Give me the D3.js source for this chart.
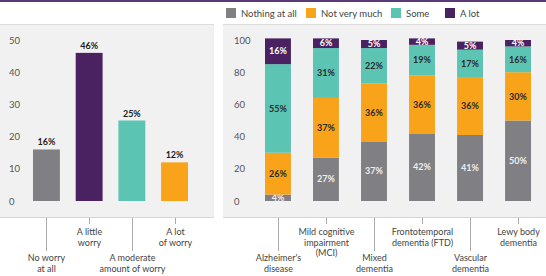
<!DOCTYPE html>
<html><head><meta charset="utf-8">
<script src="https://cdn.jsdelivr.net/npm/d3@7"></script>
<style>
html,body{margin:0;padding:0;background:#fff;}
svg{display:block;font-family:Lato,"Open Sans",sans-serif;}
</style></head>
<body>
<script>
// Left chart data
const worryCats = ["No worry at all","A little worry","A moderate amount of worry","A lot of worry"];
const worryLabelLines = [["No worry","at all"],["A little","worry"],["A moderate","amount of worry"],["A lot","of worry"]];
const worryValues = [16,46,25,12];
const worryColors = ["#808084","#4a2261","#5cc4b3","#f9a31b"];
const worryTicks = [0,10,20,30,40,50];

// Right chart data
const types = ["Alzheimer's disease","Mild cognitive impairment (MCI)","Mixed dementia","Frontotemporal dementia (FTD)","Vascular dementia","Lewy body dementia"];
const typeLabelLines = [["Alzheimer's","disease"],["Mild cognitive","impairment","(MCI)"],["Mixed","dementia"],["Frontotemporal","dementia (FTD)"],["Vascular","dementia"],["Lewy body","dementia"]];
const seriesNames = ["Nothing at all","Not very much","Some","A lot"];
const nothingAtAll = [4,27,37,42,41,50];
const notVeryMuch = [26,37,36,36,36,30];
const some = [55,31,22,19,17,16];
const aLot = [16,6,5,4,5,4];
const seriesColors = ["#808084","#f9a31b","#5cc4b3","#4a2261"];
const seriesTextColors = ["#eeeeee","#2a2a2a","#2a2a2a","#ffffff"];
const pctTicks = [0,20,40,60,80,100];

const W=546,H=276;
const svg=d3.select("body").append("svg").attr("width",W).attr("height",H);

// top rule
svg.append("rect").attr("x",0).attr("y",0).attr("width",W).attr("height",2).attr("fill","#5b3b77");

// panels
const panelTop=24, panelBot=218;
function panel(x0,x1){
  svg.append("rect").attr("x",x0).attr("y",panelTop).attr("width",x1-x0).attr("height",panelBot-panelTop).attr("fill","#f1f1f1");
  svg.append("line").attr("x1",x0).attr("x2",x1).attr("y1",panelTop+0.5).attr("y2",panelTop+0.5).attr("stroke","#dcdcdc");
  svg.append("line").attr("x1",x0).attr("x2",x1).attr("y1",panelBot-0.5).attr("y2",panelBot-0.5).attr("stroke","#d6d6d6");
}
panel(0,214);
panel(223,546);

const axisColor="#555";
// LEFT CHART
const yL=d3.scaleLinear().domain([0,50]).range([201,40]);
const xL=d3.scaleBand().domain(worryCats).range([33,188]).paddingInner(0.37).paddingOuter(0);
const axL=svg.append("g").attr("transform","translate(9,0)").call(d3.axisLeft(yL).tickValues(worryTicks).tickSize(0).tickPadding(0));
axL.select(".domain").remove();
axL.selectAll("text").attr("text-anchor","start").attr("fill",axisColor).attr("font-size",9.5).attr("font-family","Lato,sans-serif");

svg.append("g").selectAll("rect").data(worryCats).join("rect")
  .attr("x",d=>xL(d)).attr("width",xL.bandwidth())
  .attr("y",(d,i)=>yL(worryValues[i])).attr("height",(d,i)=>yL(0)-yL(worryValues[i]))
  .attr("fill",(d,i)=>worryColors[i]);
svg.append("g").selectAll("text").data(worryCats).join("text")
  .attr("x",d=>xL(d)+xL.bandwidth()/2).attr("y",(d,i)=>yL(worryValues[i])-4)
  .attr("text-anchor","middle").attr("font-size",9).attr("font-weight","bold").attr("fill","#222")
  .text((d,i)=>worryValues[i]+"%");

function catLabels(x, cats, lines){
  cats.forEach((c,i)=>{
    const cx=Math.round(x(c)+x.bandwidth()/2)+0.5;
    const nl = lines[i].length;
    const long = i%2===0;
    const tickEnd = long ? (nl===2?251:251) : 224;
    svg.append("line").attr("x1",cx).attr("x2",cx).attr("y1",panelBot).attr("y2",tickEnd).attr("stroke","#aaa").attr("stroke-width",1);
    const y0 = long ? 261 : 235;
    lines[i].forEach((t,j)=>{
      svg.append("text").attr("x",cx).attr("y",y0+j*10.5).attr("text-anchor","middle")
        .attr("font-size",9).attr("fill","#444").text(t);
    });
  });
}
catLabels(xL, worryCats, worryLabelLines);

// RIGHT CHART
const yR=d3.scaleLinear().domain([0,100]).range([201,40]);
const xR=d3.scaleBand().domain(types).range([265,531]).paddingInner(0.46).paddingOuter(0);
const axR=svg.append("g").attr("transform","translate(234,0)").call(d3.axisLeft(yR).tickValues(pctTicks).tickSize(0).tickPadding(0));
axR.select(".domain").remove();
axR.selectAll("text").attr("text-anchor","start").attr("fill",axisColor).attr("font-size",9.5).attr("font-family","Lato,sans-serif");

const table=types.map((t,i)=>({type:t,"Nothing at all":nothingAtAll[i],"Not very much":notVeryMuch[i],"Some":some[i],"A lot":aLot[i]}));
const stack=d3.stack().keys(seriesNames)(table);
stack.forEach((layer,k)=>{
  const g=svg.append("g");
  g.selectAll("rect").data(layer).join("rect")
    .attr("x",d=>xR(d.data.type)).attr("width",xR.bandwidth())
    .attr("y",d=>yR(d[1])).attr("height",d=>yR(d[0])-yR(d[1]))
    .attr("fill",seriesColors[k]);
  g.selectAll("text").data(layer).join("text")
    .attr("x",d=>xR(d.data.type)+xR.bandwidth()/2)
    .attr("y",d=>(yR(d[0])+yR(d[1]))/2+3.2)
    .attr("text-anchor","middle").attr("font-size",9).attr("font-weight","bold")
    .attr("fill",seriesTextColors[k])
    .text(d=>(d[1]-d[0])+"%");
});
catLabels(xR, types, typeLabelLines);

// legend
const legX=[226,306,391,445];
seriesNames.forEach((s,i)=>{
  svg.append("rect").attr("x",legX[i]).attr("y",8).attr("width",10).attr("height",10).attr("fill",seriesColors[i]);
  svg.append("text").attr("x",legX[i]+15).attr("y",16.5).attr("font-size",9.5).attr("fill","#444").text(s);
});
</script>
</body></html>
